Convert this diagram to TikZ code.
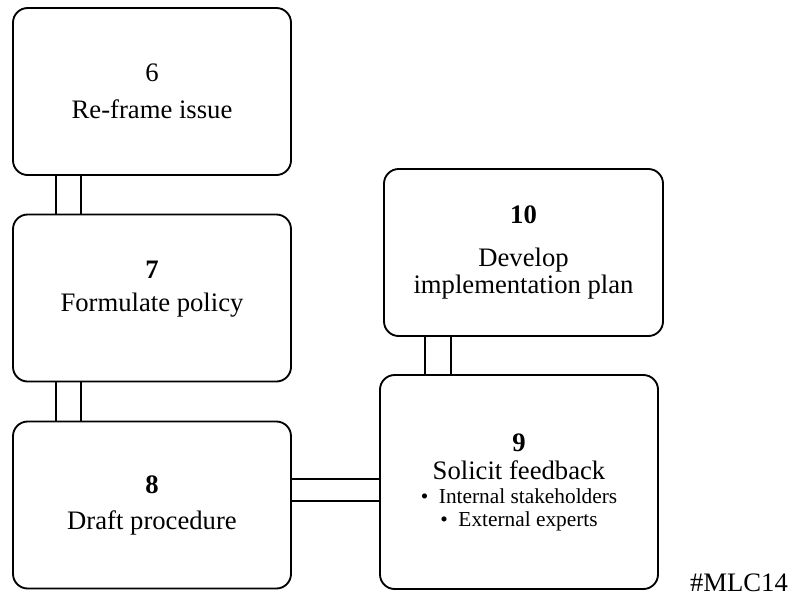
\documentclass[tikz,border=0pt]{standalone}
\usepackage{fontspec}
\setmainfont{Liberation Serif}
\usetikzlibrary{calc}

\begin{document}
\begin{tikzpicture}[
  x=0.75pt, y=-0.75pt, every node/.style={font=\fontsize{20}{20}\selectfont},
  stage/.style={draw=black, line width=1.4pt, rounded corners=11pt, align=center,
                inner sep=0pt, minimum width=208.5pt, minimum height=125.25pt},
  link/.style={line width=1.4pt},
]
\newcommand{\bulletitem}[1]{{\fontsize{16}{16}\selectfont\textbullet\hspace{8pt}#1}}
\useasboundingbox (0,0) rectangle (788,601);
% ---------------- left column ----------------
\node[stage] (r6) at (152,91.5) {6\\[7.75pt]Re-frame issue};
\node[stage] (r7) at (152,298) {\textbf{7}\\[4.75pt]Formulate policy\\[-2.75pt]{}};
\node[stage] (r8) at (152,505) {\textbf{8}\\[7pt]Draft procedure};
% ---------------- right column ----------------
\node[stage, minimum width=209.25pt] (r10) at (523.5,252.5)
     {\textbf{10}\\[12pt]Develop\\implementation plan};
\node[stage, minimum height=160.5pt] (r9) at (519,482)
     {\textbf{9}\\[1pt]Solicit feedback\\[-2pt]
      \bulletitem{Internal stakeholders}\\[-2.75pt]
      \bulletitem{External experts}};
\node (tag) at (739,583) {\#MLC14};
% ---------------- double links ----------------
\foreach \dx in {44,69}
  \draw[link] ($(r6.south west)+(\dx,0)$) -- ($(r7.north west)+(\dx,0)$);
\foreach \dx in {44,69}
  \draw[link] ($(r7.south west)+(\dx,0)$) -- ($(r8.north west)+(\dx,0)$);
\foreach \dx in {42,68} {
  \coordinate (a) at ($(r10.south west)+(\dx,0)$);
  \draw[link] (a) -- (a |- r9.north);
}
\foreach \dy in {-26,-4} {
  \coordinate (b) at ($(r8.east)+(0,\dy)$);
  \draw[link] (b) -- (b -| r9.west);
}
\end{tikzpicture}
\end{document}
